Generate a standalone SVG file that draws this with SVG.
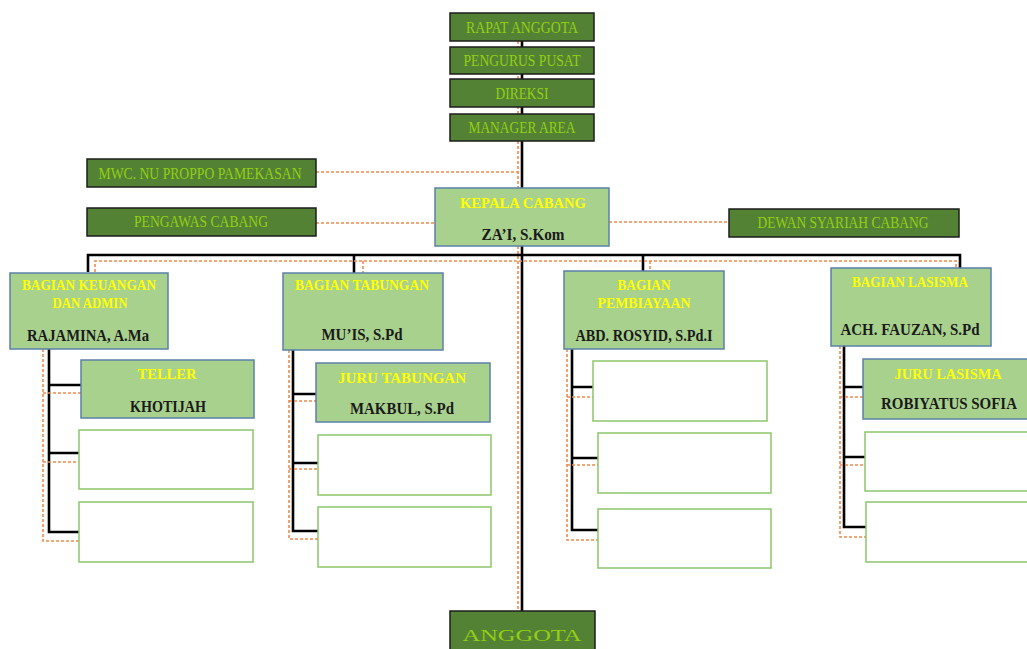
<svg xmlns="http://www.w3.org/2000/svg" width="1027" height="649" viewBox="0 0 1027 649">
  <style>
    .dark { fill: #548235; stroke: #1c1c1c; stroke-width: 1.5; }
    .lite { fill: #A9D18E; stroke: #5B80A8; stroke-width: 1.5; }
    .empty { fill: #ffffff; stroke: #8DC66B; stroke-width: 1.5; }
    .lime { fill: #92CF14; font-family: "Liberation Serif", serif; font-size: 17px; text-anchor: middle; }
    .title { fill: #FFFF00; font-family: "Liberation Serif", serif; font-size: 14px; font-weight: bold; text-anchor: middle; }
    .name { fill: #1a1a1a; font-family: "Liberation Serif", serif; font-size: 16px; font-weight: bold; text-anchor: middle; }
    .solid { fill: none; stroke: #000000; stroke-width: 2.6; }
    .dash { fill: none; stroke: #F08A4B; stroke-width: 1.6; stroke-dasharray: 3 2; }
  </style>

  <rect width="1027" height="649" fill="#ffffff"/>

  <!-- connectors -->
  <g id="connectors">
    <!-- main spine -->
    <path class="dash" d="M518 41 V611"/>
    <path class="solid" d="M522 41 V611"/>
    <!-- advisory links -->
    <path class="dash" d="M316 172 H518"/>
    <path class="dash" d="M316 223 H435"/>
    <path class="dash" d="M609 222 H729"/>
    <!-- division bar -->
    <path class="solid" d="M88 272 V255 H960 V268"/>
    <path class="solid" d="M354 255 V273"/>
    <path class="solid" d="M643 255 V271"/>
    <path class="dash" d="M95 272 V261 H956 V268"/>
    <path class="dash" d="M363 261 V273"/>
    <path class="dash" d="M650 261 V271"/>
    <!-- keuangan column -->
    <path class="solid" d="M49 349 V532 H79 M49 385 H81 M49 453 H79"/>
    <path class="dash" d="M43 349 V541 H79 M43 393 H81 M43 462 H79"/>
    <!-- tabungan column -->
    <path class="solid" d="M293 350 V531 H318 M293 394 H316 M293 463 H318"/>
    <path class="dash" d="M289 350 V539 H318 M289 401 H316 M289 469 H318"/>
    <!-- pembiayaan column -->
    <path class="solid" d="M572 349 V530 H598 M572 387 H593 M572 458 H598"/>
    <path class="dash" d="M567 349 V540 H598 M567 397 H593 M567 465 H598"/>
    <!-- lasisma column -->
    <path class="solid" d="M844 346 V527 H866 M844 387 H863 M844 457 H865"/>
    <path class="dash" d="M840 346 V537 H866 M840 397 H863 M840 465 H865"/>
  </g>

  <!-- top chain -->
  <g id="rapat-anggota">
    <rect class="dark" x="450" y="13" width="144" height="28"/>
    <text class="lime" x="522" y="33" textLength="112" lengthAdjust="spacingAndGlyphs">RAPAT ANGGOTA</text>
  </g>
  <g id="pengurus-pusat">
    <rect class="dark" x="450" y="47" width="144" height="27"/>
    <text class="lime" x="522" y="66" textLength="117" lengthAdjust="spacingAndGlyphs">PENGURUS PUSAT</text>
  </g>
  <g id="direksi">
    <rect class="dark" x="450" y="79" width="144" height="28"/>
    <text class="lime" x="522" y="99" textLength="53" lengthAdjust="spacingAndGlyphs">DIREKSI</text>
  </g>
  <g id="manager-area">
    <rect class="dark" x="450" y="114" width="144" height="27"/>
    <text class="lime" x="522" y="133" textLength="107" lengthAdjust="spacingAndGlyphs">MANAGER AREA</text>
  </g>

  <!-- side bodies -->
  <g id="mwc">
    <rect class="dark" x="87" y="159" width="229" height="28"/>
    <text class="lime" x="200" y="179" textLength="203" lengthAdjust="spacingAndGlyphs">MWC. NU PROPPO PAMEKASAN</text>
  </g>
  <g id="pengawas-cabang">
    <rect class="dark" x="87" y="208" width="229" height="28"/>
    <text class="lime" x="201" y="227" textLength="134" lengthAdjust="spacingAndGlyphs">PENGAWAS CABANG</text>
  </g>
  <g id="dewan-syariah">
    <rect class="dark" x="729" y="209" width="230" height="28"/>
    <text class="lime" x="843" y="228" textLength="171" lengthAdjust="spacingAndGlyphs">DEWAN SYARIAH CABANG</text>
  </g>

  <!-- branch head -->
  <g id="kepala-cabang">
    <rect class="lite" x="435" y="188" width="174" height="58"/>
    <text class="title" x="523" y="208" font-size="15" textLength="126" lengthAdjust="spacingAndGlyphs">KEPALA CABANG</text>
    <text class="name" x="523" y="240" textLength="83" lengthAdjust="spacingAndGlyphs">ZA’I, S.Kom</text>
  </g>

  <!-- divisions -->
  <g id="bagian-keuangan">
    <rect class="lite" x="10" y="273" width="158" height="76"/>
    <text class="title" x="89" y="290" textLength="134" lengthAdjust="spacingAndGlyphs">BAGIAN KEUANGAN</text>
    <text class="title" x="90" y="308" textLength="75" lengthAdjust="spacingAndGlyphs">DAN ADMIN</text>
    <text class="name" x="88" y="341" textLength="122" lengthAdjust="spacingAndGlyphs">RAJAMINA, A.Ma</text>
  </g>
  <g id="bagian-tabungan">
    <rect class="lite" x="283" y="273" width="160" height="77"/>
    <text class="title" x="362" y="290" textLength="134" lengthAdjust="spacingAndGlyphs">BAGIAN TABUNGAN</text>
    <text class="name" x="362" y="340" textLength="81" lengthAdjust="spacingAndGlyphs">MU’IS, S.Pd</text>
  </g>
  <g id="bagian-pembiayaan">
    <rect class="lite" x="564" y="271" width="160" height="78"/>
    <text class="title" x="644" y="290" textLength="53" lengthAdjust="spacingAndGlyphs">BAGIAN</text>
    <text class="title" x="644" y="308" textLength="93" lengthAdjust="spacingAndGlyphs">PEMBIAYAAN</text>
    <text class="name" x="644" y="341" textLength="137" lengthAdjust="spacingAndGlyphs">ABD. ROSYID, S.Pd.I</text>
  </g>
  <g id="bagian-lasisma">
    <rect class="lite" x="831" y="268" width="160" height="78"/>
    <text class="title" x="910" y="287" textLength="116" lengthAdjust="spacingAndGlyphs">BAGIAN LASISMA</text>
    <text class="name" x="910" y="335" textLength="139" lengthAdjust="spacingAndGlyphs">ACH. FAUZAN, S.Pd</text>
  </g>

  <!-- staff -->
  <g id="teller">
    <rect class="lite" x="81" y="360" width="173" height="58"/>
    <text class="title" x="167" y="379" font-size="16" textLength="59" lengthAdjust="spacingAndGlyphs">TELLER</text>
    <text class="name" x="168" y="412" textLength="76" lengthAdjust="spacingAndGlyphs">KHOTIJAH</text>
  </g>
  <g id="juru-tabungan">
    <rect class="lite" x="316" y="363" width="174" height="59"/>
    <text class="title" x="402" y="383" font-size="16" textLength="128" lengthAdjust="spacingAndGlyphs">JURU TABUNGAN</text>
    <text class="name" x="402" y="414" textLength="104" lengthAdjust="spacingAndGlyphs">MAKBUL, S.Pd</text>
  </g>
  <g id="juru-lasisma">
    <rect class="lite" x="863" y="359" width="174" height="60"/>
    <text class="title" x="948" y="379" font-size="16" textLength="107" lengthAdjust="spacingAndGlyphs">JURU LASISMA</text>
    <text class="name" x="949" y="409" textLength="136" lengthAdjust="spacingAndGlyphs">ROBIYATUS SOFIA</text>
  </g>

  <!-- open positions -->
  <g id="keuangan-staff-2"><rect class="empty" x="79" y="430" width="174" height="59"/></g>
  <g id="keuangan-staff-3"><rect class="empty" x="79" y="502" width="174" height="60"/></g>
  <g id="tabungan-staff-2"><rect class="empty" x="318" y="435" width="173" height="60"/></g>
  <g id="tabungan-staff-3"><rect class="empty" x="318" y="507" width="173" height="60"/></g>
  <g id="pembiayaan-staff-1"><rect class="empty" x="593" y="361" width="174" height="60"/></g>
  <g id="pembiayaan-staff-2"><rect class="empty" x="598" y="433" width="173" height="60"/></g>
  <g id="pembiayaan-staff-3"><rect class="empty" x="598" y="509" width="173" height="59"/></g>
  <g id="lasisma-staff-2"><rect class="empty" x="865" y="432" width="172" height="59"/></g>
  <g id="lasisma-staff-3"><rect class="empty" x="866" y="502" width="171" height="60"/></g>

  <!-- members -->
  <g id="anggota">
    <rect class="dark" x="450" y="611" width="145" height="48"/>
    <text class="lime" x="522" y="641" font-size="27" textLength="119" lengthAdjust="spacingAndGlyphs">ANGGOTA</text>
  </g>
</svg>
